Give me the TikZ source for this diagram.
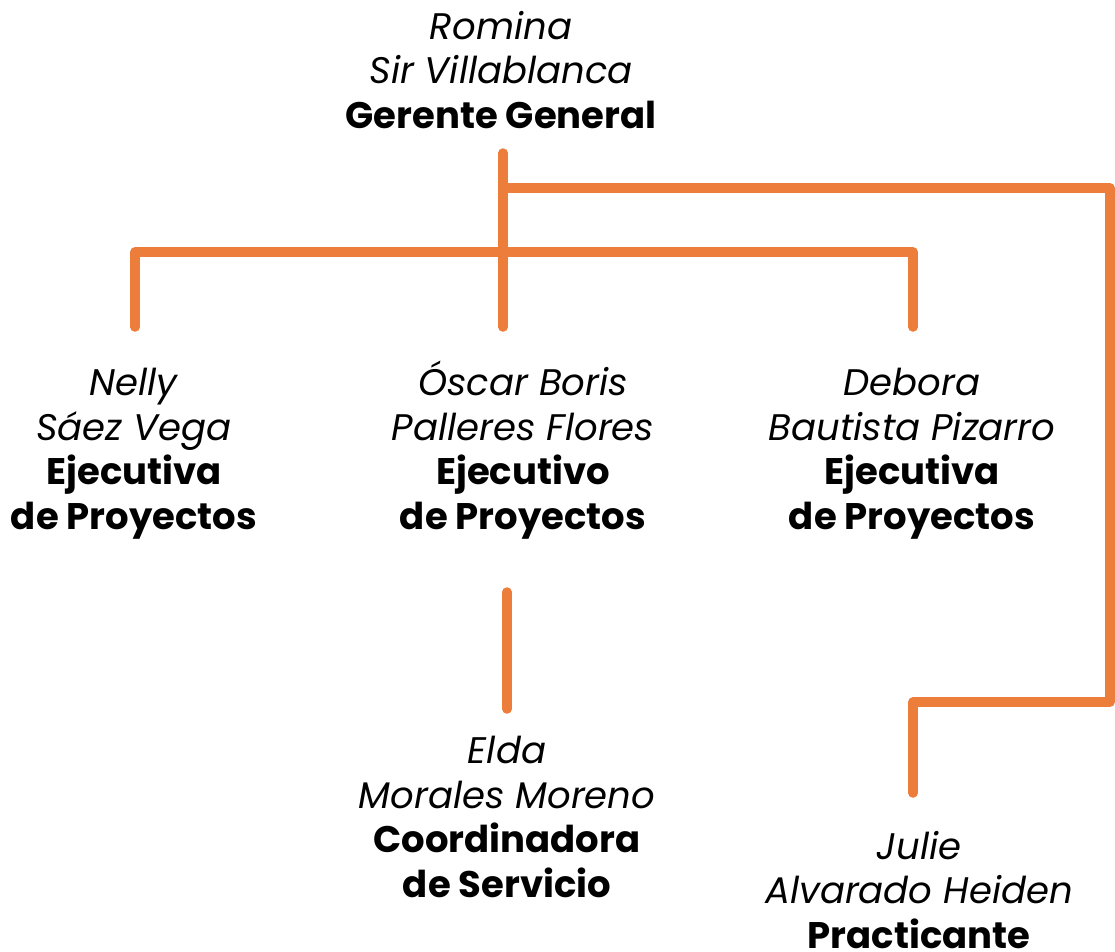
\documentclass[tikz,border=0pt]{standalone}
\usepackage{fontspec}
\setmainfont{Poppins}
\definecolor{orgline}{RGB}{237,125,58}
\begin{document}
\begin{tikzpicture}[x=1pt,y=-1pt,
  person/.style={align=center,anchor=base,inner sep=0pt,font=\fontsize{37}{44.5}\selectfont},
  link/.style={draw=orgline,line width=9.5pt,line cap=round,line join=round}]
\useasboundingbox (0,0) rectangle (1115,951);
% text blocks (anchor = baseline of last line)
\node[person] (gg) at (501,128) {\textit{Romina}\\\textit{Sir Villablanca}\\\textbf{Gerente General}};
\node[person] (nelly) at (134,529) {\textit{Nelly}\\\textit{Sáez Vega}\\\textbf{Ejecutiva}\\\textbf{de Proyectos}};
\node[person] (oscar) at (523,529) {\textit{Óscar Boris}\\\textit{Palleres Flores}\\\textbf{Ejecutivo}\\\textbf{de Proyectos}};
\node[person] (debora) at (912,529) {\textit{Debora}\\\textit{Bautista Pizarro}\\\textbf{Ejecutiva}\\\textbf{de Proyectos}};
\node[person] (elda) at (507,897) {\textit{Elda}\\\textit{Morales Moreno}\\\textbf{Coordinadora}\\\textbf{de Servicio}};
\node[person] (julie) at (919,948) {\textit{Julie}\\\textit{Alvarado Heiden}\\\textbf{Practicante}};
% connector points
\coordinate (ggTop) at (503,153);
\coordinate (ggBranch) at (503,188);
\coordinate (ggBar) at (503,252);
\coordinate (oscarTop) at (503,327);
\coordinate (nellyTop) at (135,327);
\coordinate (deboraTop) at (913,327);
\coordinate (oscarBot) at (507,592);
\coordinate (eldaTop) at (507,709);
\coordinate (julieTop) at (913,793);
% connectors
\draw[link] (ggTop) -- (oscarTop);
\draw[link] (nellyTop) |- (ggBar) -| (deboraTop);
\draw[link] (ggBranch) -- (1110,188) -- (1110,702) -| (julieTop);
\draw[link] (oscarBot) -- (eldaTop);
\end{tikzpicture}
\end{document}
